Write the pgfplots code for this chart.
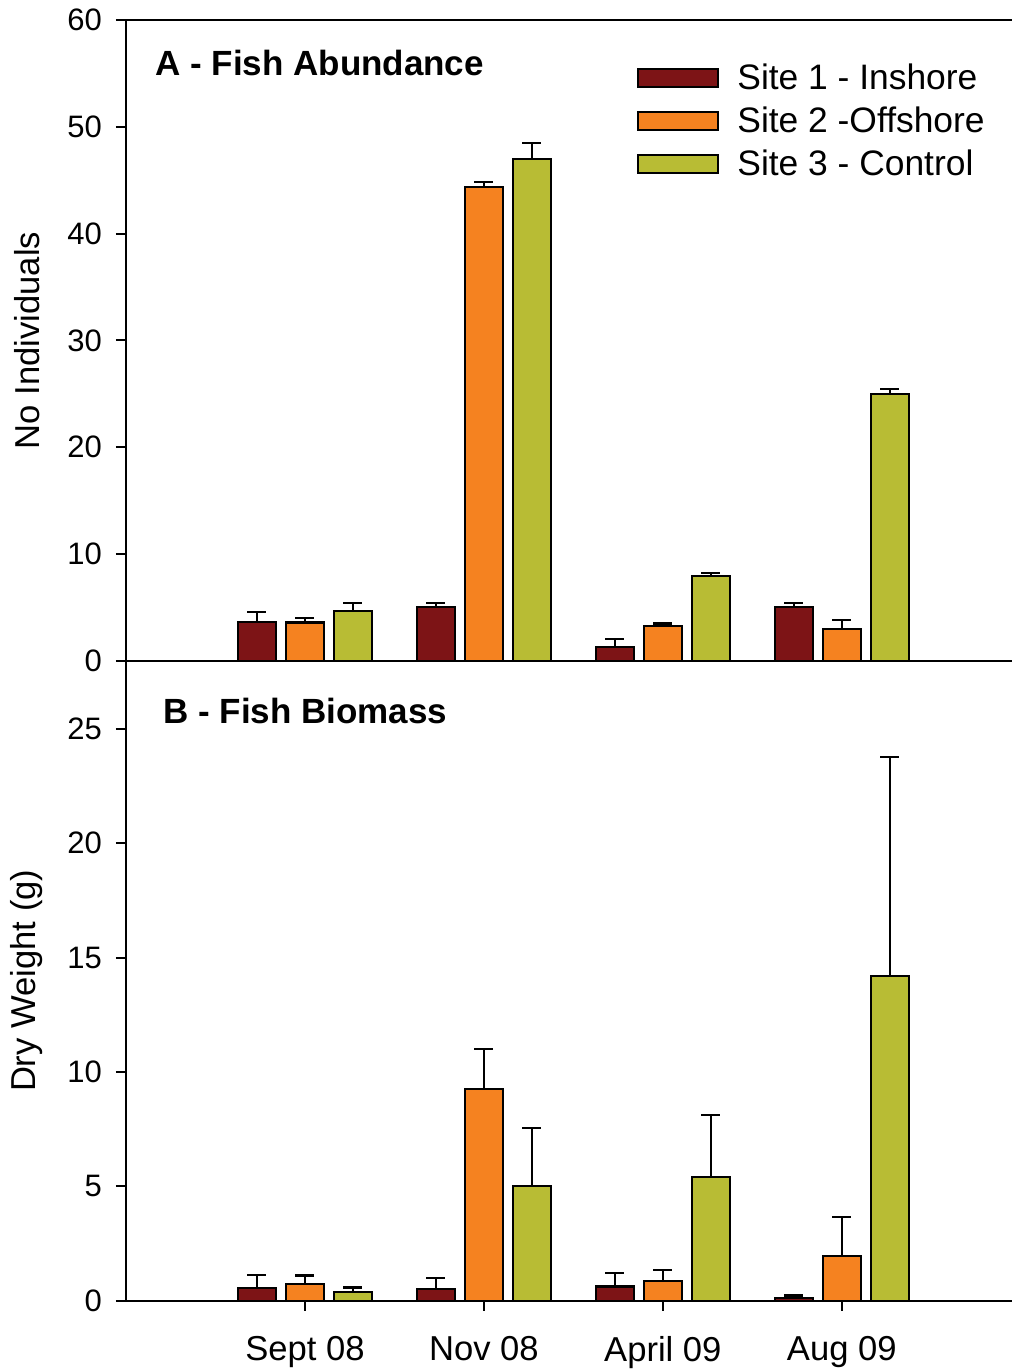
\documentclass[border=0pt]{standalone}
\usepackage{pgfplots}
\usepackage{pgfplotstable}
\pgfplotsset{compat=1.18}
\usepackage{fontspec}
\setmainfont{Liberation Sans}
\definecolor{sone}{RGB}{125,20,22}
\definecolor{stwo}{RGB}{245,130,32}
\definecolor{sthree}{RGB}{184,188,52}

\pgfplotstableread{
x s1 e1 s2 e2 s3 e3
0 3.65 0.95 3.6 0.4 4.7 0.73
1 5.05 0.35 44.35 0.5 47.0 1.45
2 1.3 0.75 3.3 0.2 7.95 0.25
3 5.05 0.4 3.0 0.85 25.0 0.45
}\abund
\pgfplotstableread{
x s1 e1 s2 e2 s3 e3
0 0.57 0.57 0.74 0.36 0.39 0.19
1 0.52 0.48 9.25 1.76 5.03 2.53
2 0.62 0.60 0.87 0.48 5.42 2.71
3 0.13 0.10 1.97 1.70 14.2 9.58
}\biom

\pgfplotsset{
  errs/.style={draw=black, line width=1.1pt,
      error bars/y dir=plus, error bars/y explicit,
      error bars/error bar style={line width=1.1pt, black},
      error bars/error mark options={rotate=90, mark size=4.75pt, line width=1.1pt, black}},
  panel/.style={
    scale only axis, width=443pt,
    xmin=-1, xmax=3.95,
    ybar, bar width=19pt,
    axis x line*=box, axis y line*=left,
    axis line style={line width=1pt},
    tick align=outside, major tick length=5pt,
    tick style={line width=1pt, black},
    ytick pos=left,
    /pgf/number format/assume math mode=true,
    yticklabel style={font=\fontsize{15.5}{17}\selectfont, xshift=-3.5pt},
    ylabel style={font=\fontsize{17.3}{20}\selectfont, inner sep=0pt},
  }
}

\begin{document}
\begin{tikzpicture}
\path (-63pt,-34pt) rectangle (443pt,650.5pt);
% Top panel
\begin{axis}[panel, name=top, at={(0pt,320pt)}, anchor=south west,
  height=320.5pt, ymin=0, ymax=60, ytick={0,10,...,60},
  xtick=\empty,
  ylabel={No Individuals}, ylabel style={at={(rel axis cs:0,0.5)}, anchor=center, yshift=49.5pt},
  legend image code/.code={\draw[#1, line width=1pt] (0pt,-4.5pt) rectangle (40pt,4.5pt); \path (44pt,0pt);},
  legend style={at={(rel axis cs:0.570,0.945)}, anchor=north west, draw=none, fill=none,
    font=\fontsize{17.7}{20}\selectfont, row sep=3.3pt,
    nodes={inner xsep=5pt}},
  legend cell align=left,
]
\addplot[errs, fill=sone, bar shift=-24pt] table[x=x, y=s1, y error=e1] {\abund};
\addplot[errs, fill=stwo, bar shift=0pt] table[x=x, y=s2, y error=e2] {\abund};
\addplot[errs, fill=sthree, bar shift=24pt] table[x=x, y=s3, y error=e3] {\abund};
\legend{Site 1 - Inshore, Site 2 -Offshore, Site 3 - Control}
\node[anchor=west, inner sep=0pt, font=\bfseries\fontsize{17.5}{20}\selectfont] at (rel axis cs:0.0327,0.933) {A - Fish Abundance};
\end{axis}
% Bottom panel
\begin{axis}[panel, name=bot, at={(0pt,0pt)}, anchor=south west,
  height=320pt, ymin=0, ymax=27.97, ytick={0,5,...,25},
  xtick={0,1,2,3}, xticklabels={Sept 08, Nov 08, April 09, Aug 09},
  xtick pos=bottom,
  xticklabel style={font=\fontsize{17.3}{20}\selectfont, inner sep=0pt, yshift=-12.8pt},
  ylabel={Dry Weight (g)}, ylabel style={at={(rel axis cs:0,0.5)}, anchor=center, yshift=49.5pt},
]
\addplot[errs, fill=sone, bar shift=-24pt] table[x=x, y=s1, y error=e1] {\biom};
\addplot[errs, fill=stwo, bar shift=0pt] table[x=x, y=s2, y error=e2] {\biom};
\addplot[errs, fill=sthree, bar shift=24pt] table[x=x, y=s3, y error=e3] {\biom};
\node[anchor=west, inner sep=0pt, font=\bfseries\fontsize{17.5}{20}\selectfont] at (rel axis cs:0.0417,0.922) {B - Fish Biomass};
\end{axis}
\end{tikzpicture}
\end{document}
